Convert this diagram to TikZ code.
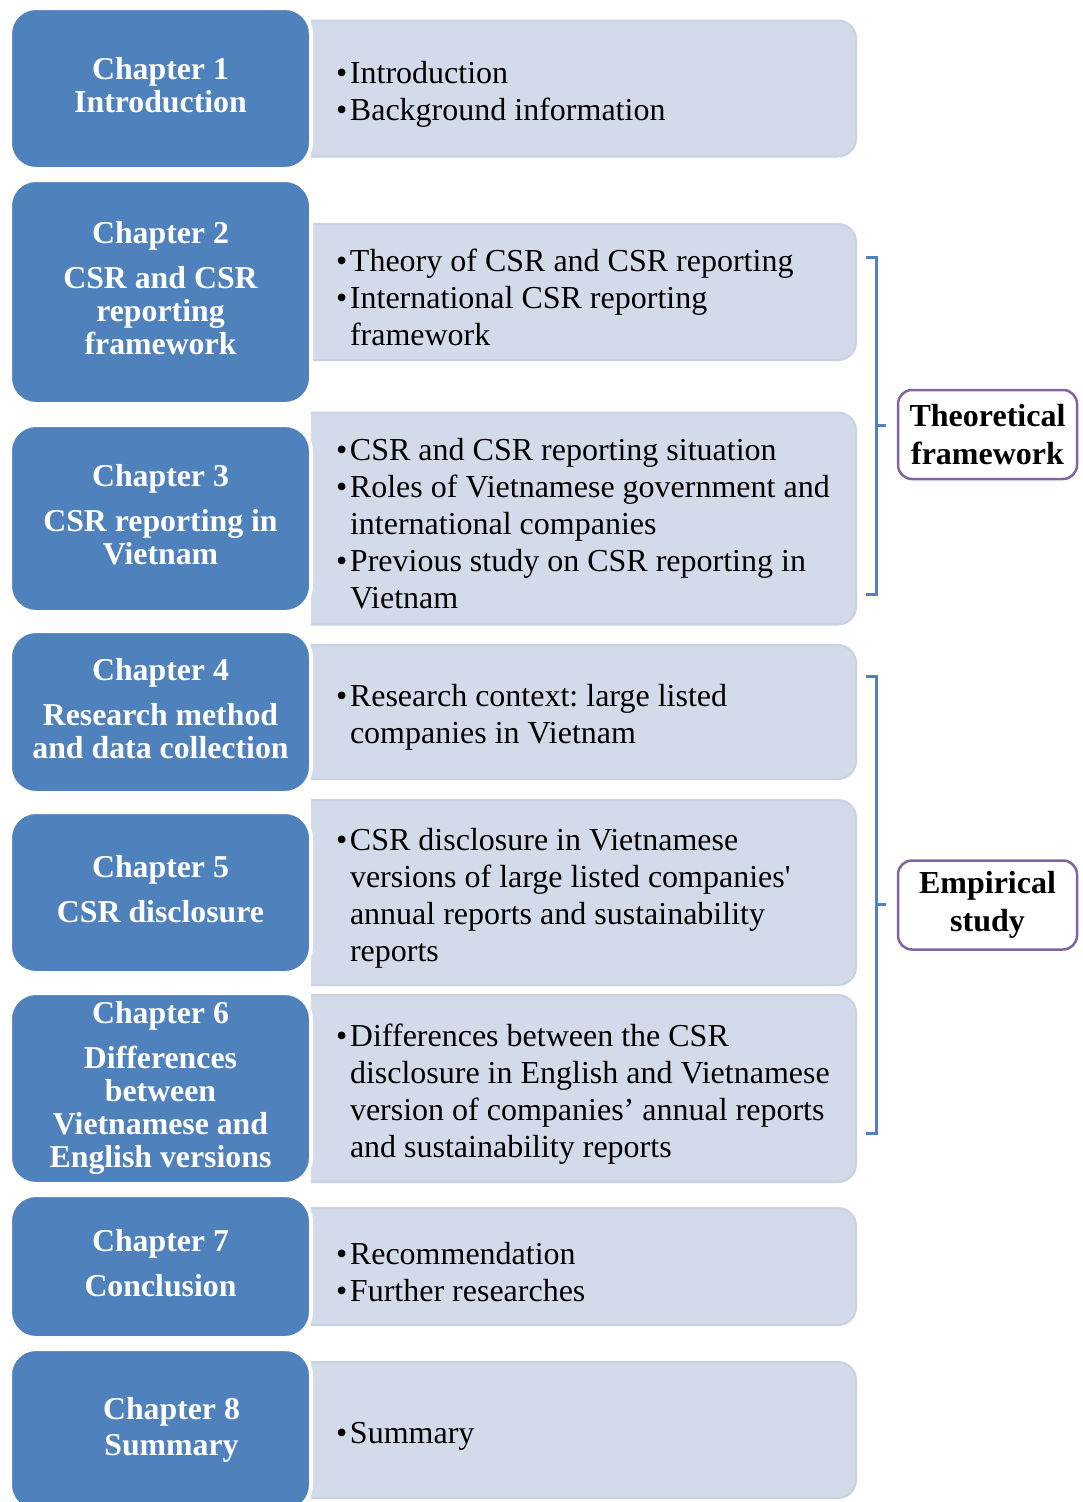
\documentclass[tikz,border=0pt]{standalone}
\usepackage{fontspec}
\setmainfont{Liberation Serif}
\newfontfamily\panelfont{Liberation Serif}
\usetikzlibrary{positioning,backgrounds}

\definecolor{chapblue}{RGB}{79,129,189}
\definecolor{panelfill}{RGB}{211,218,234}
\definecolor{paneledge}{RGB}{201,209,228}
\definecolor{tagpurple}{RGB}{128,100,162}

\newcommand{\paneltext}{\panelfont\fontsize{32}{37}\selectfont\frenchspacing}
\newcommand{\pitem}[1]{\makebox[14pt][l]{•}\mbox{\spaceskip=0pt\xspaceskip=0pt\relax #1}}
\newcommand{\pcont}[1]{\hspace*{14pt}\mbox{\spaceskip=0pt\xspaceskip=0pt\relax #1}}

\begin{document}
\begin{tikzpicture}[
        x=1pt, y=-1pt,
        node distance=11pt,
        chapter/.style={
            rectangle,
            rounded corners=26pt,
            draw=white,
            fill=chapblue,
            line width=4pt,
            outer sep=0pt,
            text=white,
            align=center,
            minimum width=301pt,
            inner sep=4pt,
            text depth=8pt,
            font=\fontsize{31.8}{33}\selectfont\bfseries
        },
        panel/.style={
            rectangle,
            outer sep=0pt,
            align=left,
            text width=495pt,
            text height=33pt,
            inner xsep=25pt,
            inner ysep=0pt,
            minimum width=545pt,
            font=\paneltext
        },
        panelbg/.style={fill=panelfill, draw=paneledge, line width=2pt, rounded corners=18pt},
        brace/.style={draw=chapblue, line width=3pt},
        tag/.style={
            rectangle,
            rounded corners=14pt,
            draw=tagpurple,
            fill=white,
            line width=2.5pt,
            align=center,
            minimum width=179pt,
            minimum height=89pt,
            inner sep=2pt,
            font=\fontsize{32}{38}\selectfont\bfseries
        }
    ]

    \useasboundingbox (0,0) rectangle (1082,1502);

    % chapter column
    \node[chapter, minimum height=161pt] (ch1) at (160.5,88.5) {Chapter 1\\Introduction};
    \node[chapter, minimum height=224pt, below=11pt of ch1] (ch2) {Chapter 2\\[12pt]CSR and CSR\\reporting\\framework};
    \node[chapter, minimum height=187pt, below=21pt of ch2] (ch3) {Chapter 3\\[12pt]CSR reporting in\\Vietnam};
    \node[chapter, minimum height=162pt, below=19pt of ch3] (ch4) {Chapter 4\\[12pt]Research method\\and data collection};
    \node[chapter, minimum height=161pt, below=19pt of ch4] (ch5) {Chapter 5\\[12pt]CSR disclosure};
    \node[chapter, minimum height=191pt, below=20pt of ch5] (ch6) {Chapter 6\\[12pt]Differences\\between\\Vietnamese and\\English versions};
    \node[chapter, minimum height=143pt, below=11pt of ch6] (ch7) {Chapter 7\\[12pt]Conclusion};
    \node[chapter, minimum height=162pt, below=11pt of ch7] (ch8) {\hspace*{22pt}Chapter 8\\[3pt]\hspace*{22pt}Summary};

    % contents column
    \node[panel, minimum height=136pt, right=0pt of ch1] (p1) {\pitem{Introduction}\\\pitem{Background information}};
    \node[panel, minimum height=136pt, right=0pt of ch2] (p2) {\pitem{Theory of CSR and CSR reporting}\\\pitem{International CSR reporting}\\\pcont{framework}};
    \node[panel, minimum height=212pt, right=0pt of ch3] (p3) {\pitem{CSR and CSR reporting situation}\\\pitem{Roles of Vietnamese government and}\\\pcont{international companies}\\\pitem{Previous study on CSR reporting in}\\\pcont{Vietnam}};
    \node[panel, minimum height=134pt, right=0pt of ch4] (p4) {\pitem{Research context: large listed}\\\pcont{companies in Vietnam}};
    \node[panel, minimum height=185pt, right=0pt of ch5] (p5) {\pitem{CSR disclosure in Vietnamese}\\\pcont{versions of large listed companies'}\\\pcont{annual reports and sustainability}\\\pcont{reports}};
    \node[panel, minimum height=187pt, right=0pt of ch6] (p6) {\pitem{Differences between the CSR}\\\pcont{disclosure in English and Vietnamese}\\\pcont{version of companies’ annual reports}\\\pcont{and sustainability reports}};
    \node[panel, minimum height=117pt, right=0pt of ch7] (p7) {\pitem{Recommendation}\\\pitem{Further researches}};
    \node[panel, minimum height=136pt, right=0pt of ch8] (p8) {\pitem{Summary}};

    \begin{scope}[on background layer]
        \foreach \i in {1,...,8}
            \path[panelbg] (p\i.south west) -- (p\i.south east) -- (p\i.north east) -- (p\i.north west);
    \end{scope}

    % groups
    \coordinate (th top) at (876,257);
    \coordinate (th bot) at (876,594);
    \coordinate (th mid) at (876,425.5);
    \coordinate (em top) at (876,676);
    \coordinate (em bot) at (876,1133);
    \coordinate (em mid) at (876,904.5);

    \draw[brace] ([xshift=-10pt]th top) -- (th top) -- (th bot) -- ([xshift=-10pt]th bot);
    \draw[brace] (th mid) -- ++(10,0);
    \draw[brace] ([xshift=-10pt]em top) -- (em top) -- (em bot) -- ([xshift=-10pt]em bot);
    \draw[brace] (em mid) -- ++(10,0);

    \node[tag] (theory) at (987.5,434.5) {Theoretical\\framework};
    \node[tag] (empiric) at (987.5,905) {Empirical\\study};

\end{tikzpicture}
\end{document}
